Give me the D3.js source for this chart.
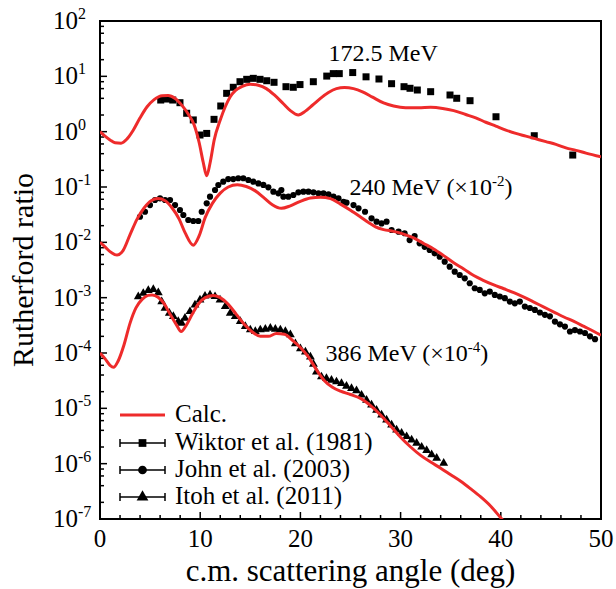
<!DOCTYPE html>
<html><head><meta charset="utf-8">
<script src="https://cdn.jsdelivr.net/npm/d3@7"></script>
<style>
html,body{margin:0;padding:0;background:#fff;}
text{font-family:"Liberation Serif","Times New Roman",Times,serif;fill:#000;}
</style></head>
<body>
<svg id="chart" width="616" height="589"></svg>
<script>
// ---- Data ----
const xTicks = [0, 10, 20, 30, 40, 50];
const yTickExps = [2, 1, 0, -1, -2, -3, -4, -5, -6, -7];

// Calculations (red curves): angle (deg) and Rutherford ratio
const calc172Angle = [0,0.5,1,1.5,2.1,2.7,3.3,4.0,4.7,5.4,6.2,6.8,7.5,8.2,8.8,9.4,9.9,10.3,10.65,11.0,11.4,12.0,12.5,13.0,13.5,14.2,15.0,15.8,16.6,17.4,18.3,19.0,19.8,20.5,21.2,22.0,22.8,23.6,24.4,25.3,26.2,27.2,28.3,29.3,30.5,31.8,33.0,34.2,35.3,36.5,37.5,38.5,39.5,40.5,41.5,42.5,43.5,44.5,45.5,46.5,47.5,48.5,50];
const calc172Value = [1.0,0.83,0.71,0.63,0.62,0.74,1.05,1.78,2.82,3.8,4.47,4.5,3.98,2.95,2.09,1.32,0.63,0.28,0.16,0.28,0.71,1.62,2.82,4.27,5.5,6.6,7.2,6.9,6.0,4.6,3.2,2.4,2.0,2.35,3.0,4.0,5.1,6.0,6.3,6.0,5.25,4.2,3.3,2.9,2.7,2.7,2.75,2.63,2.4,2.04,1.78,1.48,1.26,1.07,0.93,0.83,0.74,0.66,0.59,0.51,0.46,0.41,0.35];

const calc240Angle = [0,0.5,1.0,1.7,2.3,3.0,3.7,4.4,5.1,5.8,6.5,7.2,7.9,8.5,9.3,9.9,10.5,11.2,12.0,12.8,13.7,14.6,15.5,16.4,17.2,18.1,19.0,20.0,21.0,22.0,23.0,24.0,25.0,26.0,26.8,27.5,28.3,29.3,30.3,31.3,32.3,33.3,34.3,35.3,36.3,37.3,38.3,39.3,40.3,41.3,42.3,43.3,44.3,45.3,46.3,47.3,48.3,49.3,50];
const calc240Value = [0.01,0.0083,0.0068,0.0059,0.0071,0.0138,0.0263,0.0417,0.0562,0.0617,0.0562,0.0417,0.0263,0.0148,0.0089,0.0132,0.0282,0.0501,0.0776,0.1,0.11,0.102,0.0851,0.0631,0.0479,0.0412,0.0457,0.055,0.063,0.0653,0.0617,0.049,0.038,0.0288,0.0229,0.0191,0.017,0.0158,0.0141,0.012,0.00955,0.00759,0.00575,0.00427,0.00331,0.00251,0.00204,0.0017,0.00145,0.00123,0.00102,0.000832,0.000676,0.00055,0.000447,0.000372,0.000302,0.000245,0.000209];

const calc386Angle = [0,0.5,1.0,1.35,1.8,2.4,3.0,3.6,4.2,4.8,5.2,5.8,6.4,7.0,7.6,8.1,8.6,9.2,9.8,10.5,11.3,12.0,12.8,13.6,14.4,15.2,16.0,16.8,17.6,18.4,19.2,20.0,20.8,21.6,22.4,23.2,24.0,25.0,26.0,27.0,28.0,29.0,30.0,31.0,32.0,33.0,34.0,35.0,36.0,37.0,38.0,39.0,40.1,40.5];
const calc386Value = [1e-4,7.9e-5,6.0e-5,5.5e-5,7.1e-5,1.41e-4,3.47e-4,6.6e-4,9.3e-4,1.1e-3,1.12e-3,1.02e-3,7.8e-4,5.0e-4,3.3e-4,2.45e-4,3.16e-4,5.0e-4,7.6e-4,1.0e-3,1.1e-3,1.0e-3,7.6e-4,5.0e-4,3.3e-4,2.4e-4,2.0e-4,2.0e-4,2.24e-4,2.19e-4,1.7e-4,1.26e-4,8.5e-5,5.0e-5,3.16e-5,2.4e-5,2.04e-5,1.78e-5,1.51e-5,1.12e-5,7.6e-6,4.8e-6,3.0e-6,2.0e-6,1.41e-6,1.07e-6,8.3e-7,6.3e-7,4.8e-7,3.5e-7,2.5e-7,1.7e-7,1e-7,8.3e-8];

// Wiktor et al. (1981), 172.5 MeV
const wiktorAngle = [6.06,6.66,7.26,7.98,8.65,9.31,9.98,10.65,11.38,12.05,12.64,13.3,13.97,14.64,15.3,15.97,16.64,17.37,18.56,19.29,19.96,21.29,22.63,23.28,23.88,25.22,26.55,27.84,29.1,30.34,30.94,31.67,33.0,34.93,35.6,36.93,39.52,43.34,47.18];
const wiktorValue = [3.73,3.89,3.73,3.34,2.15,1.63,0.87,0.93,1.67,2.91,4.93,6.34,8.0,8.83,9.2,8.83,8.33,7.8,6.5,6.34,7.1,8.0,10.1,11.2,11.2,11.7,9.8,8.95,7.36,6.5,6.08,5.66,5.28,4.6,4.01,3.63,1.86,0.845,0.378];

// John et al. (2003), 240 MeV (x10^-2)
const johnAngle = [3.99,4.49,4.99,5.49,5.99,6.49,6.99,7.49,7.98,8.32,8.81,9.31,9.81,10.15,10.65,10.98,11.48,11.81,12.3,12.8,13.3,13.8,14.3,14.8,15.3,15.8,16.3,16.8,17.3,17.8,18.1,18.3,18.8,19.3,19.8,20.3,20.8,21.3,21.8,22.3,22.8,23.3,23.8,24.3,24.6,25.3,25.8,26.45,27.1,27.6,28.1,28.6,29.1,29.8,30.4,30.9,31.4,31.9,32.4,32.9,33.4,33.9,34.4,34.9,35.4,35.9,36.4,36.9,37.4,37.9,38.4,38.9,39.4,39.9,40.4,40.9,41.4,41.9,42.4,42.9,43.4,43.9,44.4,44.9,45.4,45.9,46.4,46.9,47.4,47.9,48.4,48.9,49.4];
const johnValue = [0.029,0.0357,0.0472,0.0582,0.0624,0.0582,0.0582,0.0472,0.0384,0.0312,0.0253,0.0243,0.0243,0.0357,0.0507,0.0668,0.0883,0.1086,0.125,0.139,0.139,0.144,0.144,0.134,0.125,0.116,0.109,0.0986,0.0822,0.0769,0.0883,0.0668,0.0668,0.0716,0.0802,0.0822,0.0822,0.0802,0.0769,0.0769,0.0736,0.0668,0.0624,0.0542,0.052,0.0472,0.0411,0.0357,0.0272,0.0236,0.022,0.0236,0.0167,0.0156,0.0146,0.011,0.013,0.0096,0.0083,0.00726,0.00632,0.0055,0.00447,0.00363,0.00295,0.00257,0.00224,0.00182,0.00148,0.00138,0.0012,0.00129,0.00112,0.00105,0.00098,0.00085,0.00079,0.00085,0.00069,0.00065,0.0006,0.00054,0.00049,0.00046,0.00037,0.00033,0.0003,0.000245,0.00026,0.000245,0.00023,0.0002,0.000178];

// Itoh et al. (2011), 386 MeV (x10^-4)
const itohAngle = [3.82,4.32,4.82,5.32,5.82,6.16,6.49,6.92,7.32,7.81,8.15,8.48,8.98,9.48,9.98,10.48,10.98,11.48,11.98,12.5,13.0,13.5,14.0,14.5,15.0,15.5,16.0,16.5,17.0,17.5,18.0,18.5,19.0,19.5,20.0,20.5,21.0,21.3,21.6,22.1,22.6,23.1,23.6,24.1,24.6,25.1,25.6,26.1,26.6,27.1,27.6,28.1,28.6,29.1,29.6,30.1,30.6,31.1,31.6,32.1,32.6,33.1,33.6,34.3];
const itohValue = [1.04e-3,1.2e-3,1.35e-3,1.41e-3,1.23e-3,8.5e-4,6.46e-4,5.25e-4,4.57e-4,3.72e-4,3.47e-4,4.27e-4,5.62e-4,7.41e-4,9.12e-4,1.07e-3,1.12e-3,1.05e-3,9.12e-4,6.92e-4,5.25e-4,4.57e-4,3.72e-4,3.02e-4,2.63e-4,2.45e-4,2.63e-4,2.69e-4,2.82e-4,2.69e-4,2.63e-4,2.45e-4,2.14e-4,1.48e-4,1.2e-4,1.05e-4,8.5e-5,6.3e-5,4.57e-5,3.72e-5,3.47e-5,3.24e-5,3.02e-5,2.82e-5,2.51e-5,2.29e-5,2.09e-5,1.74e-5,1.41e-5,1.15e-5,9.3e-6,7.6e-6,6.2e-6,5.0e-6,4.07e-6,3.55e-6,3.09e-6,2.69e-6,2.34e-6,2.0e-6,1.74e-6,1.45e-6,1.26e-6,1.02e-6];

const seriesLabels = [
  {main: "172.5 MeV", sup: null, ang: 22.8, val: 19},
  {main: "240 MeV (\u00d710", sup: "-2", tail: ")", ang: 24.9, val: 0.0716},
  {main: "386 MeV (\u00d710", sup: "-4", tail: ")", ang: 22.5, val: 7.2e-5}
];
const legendItems = ["Calc.", "Wiktor et al. (1981)", "John et al. (2003)", "Itoh et al. (2011)"];

// ---- Chart ----
const W = 616, H = 589;
const m = {left: 100, right: 15, top: 21, bottom: 70};
const svg = d3.select("#chart");
const x = d3.scaleLinear().domain([0, 50]).range([m.left, W - m.right]);
const y = d3.scaleLog().domain([1e-7, 1e2]).range([H - m.bottom, m.top]);
const RED = "#ee2b2b";

svg.append("defs").append("clipPath").attr("id", "clip")
  .append("rect").attr("x", x(0)).attr("y", y(1e2))
  .attr("width", x(50) - x(0)).attr("height", y(1e-7) - y(1e2));

// x axis (ticks inward)
const xMinor = d3.range(0, 51, 2).filter(v => v % 10 !== 0 && v > 0 && v < 50);
const gx = svg.append("g");
gx.selectAll("line.maj").data(xTicks.filter(v => v > 0 && v < 50)).join("line")
  .attr("x1", d => x(d)).attr("x2", d => x(d))
  .attr("y1", y(1e-7)).attr("y2", y(1e-7) - 7)
  .attr("stroke", "#000").attr("stroke-width", 1.5);
gx.selectAll("line.min").data(xMinor).join("line")
  .attr("x1", d => x(d)).attr("x2", d => x(d))
  .attr("y1", y(1e-7)).attr("y2", y(1e-7) - 4)
  .attr("stroke", "#000").attr("stroke-width", 1.5);
gx.selectAll("text").data(xTicks).join("text")
  .attr("x", d => x(d)).attr("y", 547).attr("text-anchor", "middle")
  .attr("font-size", 25).text(d => d);

// y axis
const gy = svg.append("g");
gy.selectAll("line.maj").data(yTickExps).join("line")
  .attr("x1", x(0)).attr("x2", x(0) + 7)
  .attr("y1", d => y(Math.pow(10, d))).attr("y2", d => y(Math.pow(10, d)))
  .attr("stroke", "#000").attr("stroke-width", 1.5);
const yMinor = [];
yTickExps.slice(1).forEach(e => [2, 4, 6, 8].forEach(k => yMinor.push(k * Math.pow(10, e))));
gy.selectAll("line.min").data(yMinor).join("line")
  .attr("x1", x(0)).attr("x2", x(0) + 4)
  .attr("y1", d => y(d)).attr("y2", d => y(d))
  .attr("stroke", "#000").attr("stroke-width", 1.5);
const yl = gy.selectAll("text").data(yTickExps).join("text")
  .attr("x", 53).attr("y", d => y(Math.pow(10, d)) + 8).attr("font-size", 25);
yl.append("tspan").text("10");
yl.append("tspan").attr("dy", -10).attr("font-size", 16).text(d => String(d));

// frame
svg.append("rect").attr("x", x(0)).attr("y", y(1e2))
  .attr("width", x(50) - x(0)).attr("height", y(1e-7) - y(1e2))
  .attr("fill", "none").attr("stroke", "#000").attr("stroke-width", 2);

// data markers
const plot = svg.append("g").attr("clip-path", "url(#clip)");
const sq = d3.symbol().type(d3.symbolSquare).size(49);
const ci = d3.symbol().type(d3.symbolCircle).size(30);
const tr = d3.symbol().type(d3.symbolTriangle).size(34);

plot.selectAll("path.w").data(wiktorAngle.map((a, i) => [a, wiktorValue[i]])).join("path")
  .attr("transform", d => `translate(${x(d[0])},${y(d[1])})`).attr("d", sq).attr("fill", "#000");
plot.selectAll("path.j").data(johnAngle.map((a, i) => [a, johnValue[i]])).join("path")
  .attr("transform", d => `translate(${x(d[0])},${y(d[1])})`).attr("d", ci).attr("fill", "#000");
plot.selectAll("path.i").data(itohAngle.map((a, i) => [a, itohValue[i]])).join("path")
  .attr("transform", d => `translate(${x(d[0])},${y(d[1])})`).attr("d", tr).attr("fill", "#000");

// calc curves
const line = d3.line().x(d => x(d[0])).y(d => y(d[1])).curve(d3.curveMonotoneX);
[[calc172Angle, calc172Value], [calc240Angle, calc240Value], [calc386Angle, calc386Value]].forEach(([a, v]) => {
  plot.append("path").datum(a.map((ang, i) => [ang, v[i]]))
    .attr("d", line).attr("fill", "none").attr("stroke", RED).attr("stroke-width", 3);
});

// series labels
seriesLabels.forEach(s => {
  const t = svg.append("text").attr("x", x(s.ang)).attr("y", y(s.val)).attr("font-size", 24);
  t.append("tspan").text(s.main);
  if (s.sup) {
    t.append("tspan").attr("dy", -9).attr("font-size", 15).text(s.sup);
    t.append("tspan").attr("dy", 9).text(s.tail);
  }
});

// legend
const lg = svg.append("g");
const lgX1 = 120, lgX2 = 165, lgY = [415, 443, 470, 497];
lg.append("line").attr("x1", lgX1).attr("x2", lgX2).attr("y1", lgY[0]).attr("y2", lgY[0])
  .attr("stroke", RED).attr("stroke-width", 3);
[sq, ci, tr].forEach((sym, k) => {
  const yy = lgY[k + 1];
  lg.append("line").attr("x1", lgX1).attr("x2", lgX2).attr("y1", yy).attr("y2", yy).attr("stroke", "#000").attr("stroke-width", 1.5);
  lg.append("line").attr("x1", lgX1).attr("x2", lgX1).attr("y1", yy - 4).attr("y2", yy + 4).attr("stroke", "#000").attr("stroke-width", 1.5);
  lg.append("line").attr("x1", lgX2).attr("x2", lgX2).attr("y1", yy - 4).attr("y2", yy + 4).attr("stroke", "#000").attr("stroke-width", 1.5);
  lg.append("path").attr("transform", `translate(${(lgX1 + lgX2) / 2},${yy})`)
    .attr("d", d3.symbol().type([d3.symbolSquare, d3.symbolCircle, d3.symbolTriangle][k]).size(60)).attr("fill", "#000");
});
lg.selectAll("text").data(legendItems).join("text")
  .attr("x", 175).attr("y", (d, i) => lgY[i] + 7).attr("font-size", 25).text(d => d);

// axis titles
svg.append("text").attr("x", (x(0) + x(50)) / 2).attr("y", 581).attr("text-anchor", "middle")
  .attr("font-size", 31).text("c.m. scattering angle (deg)");
svg.append("text").attr("transform", `translate(33,${(y(1e2) + y(1e-7)) / 2}) rotate(-90)`)
  .attr("text-anchor", "middle").attr("font-size", 30).text("Rutherford ratio");
</script>
</body></html>
